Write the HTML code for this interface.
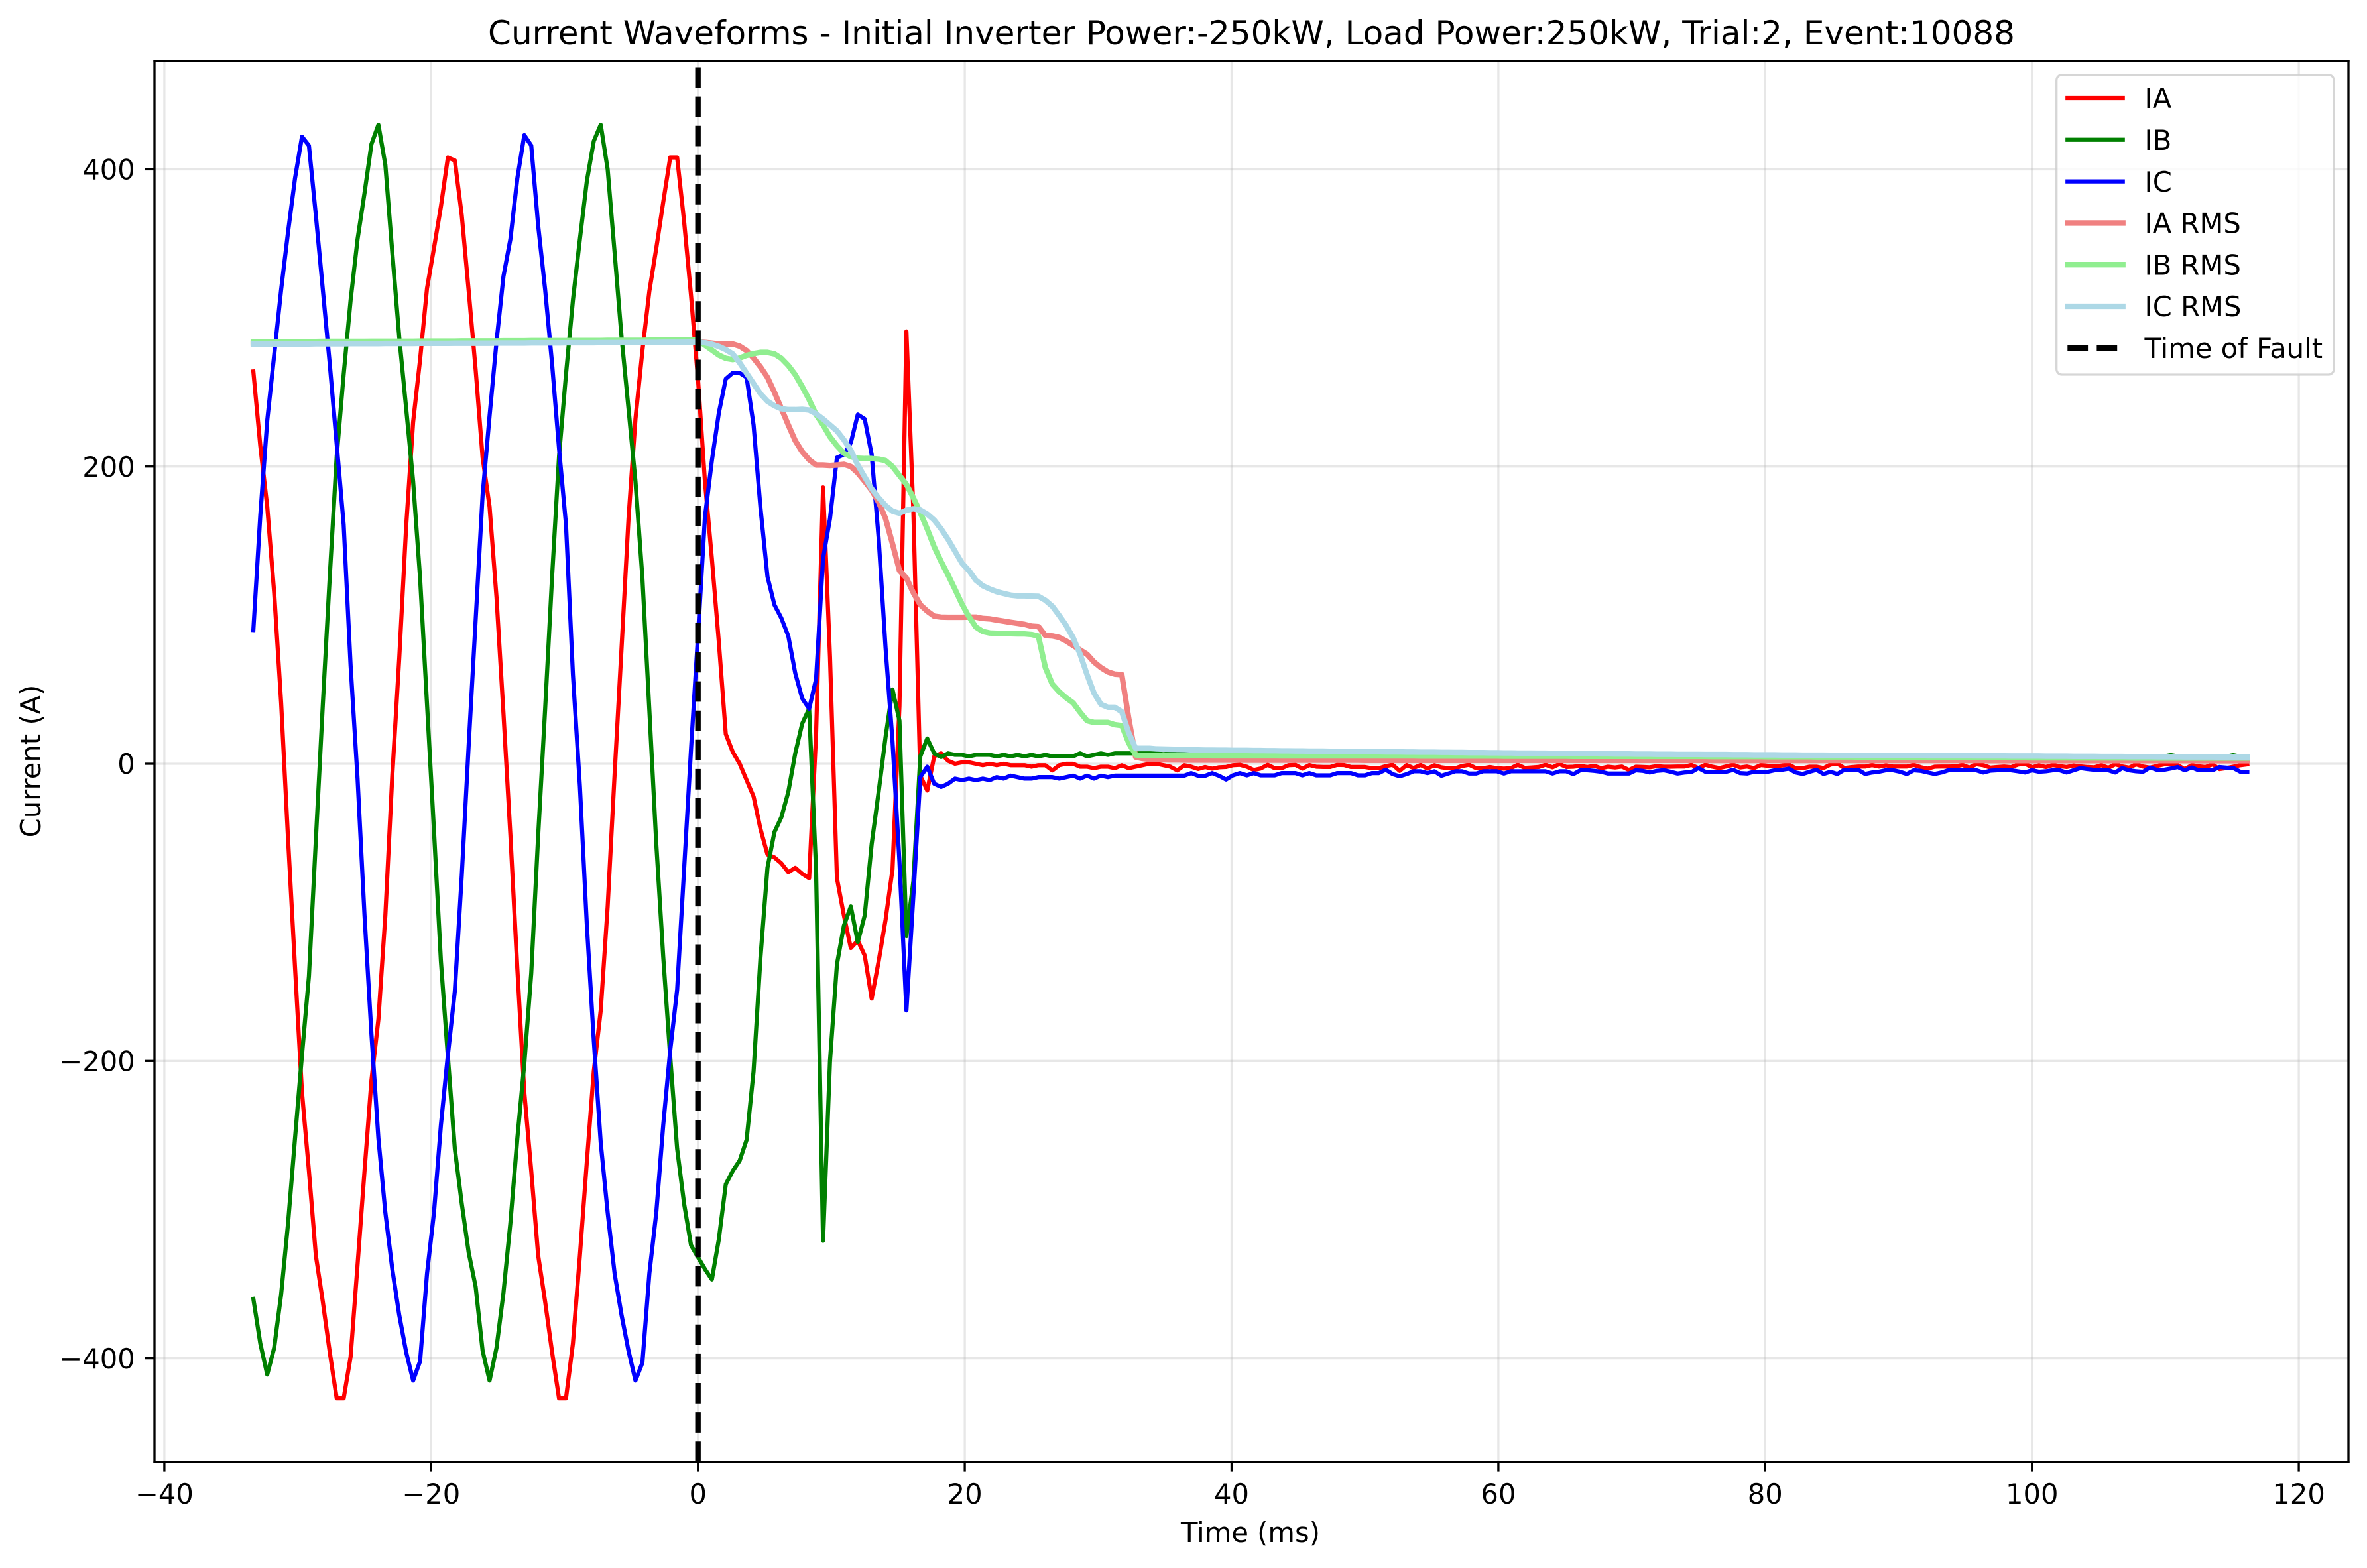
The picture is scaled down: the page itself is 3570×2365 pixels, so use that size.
<!DOCTYPE html>
<html lang="en">
<head>
<meta charset="utf-8">
<title>Current Waveforms</title>
<style>
html,body{margin:0;padding:0;background:#fff;}
svg{display:block;}
text{font-family:"DejaVu Sans","Liberation Sans",sans-serif;fill:#000;}
</style>
</head>
<body>
<svg id="chart" xmlns="http://www.w3.org/2000/svg" width="3570" height="2365" viewBox="0 0 3570 2365">
  <rect x="0" y="0" width="3570" height="2365" fill="#fff"/>
  <defs><clipPath id="plot-clip"><rect x="233" y="92.3" width="3309" height="2112.7"/></clipPath></defs>
  <g id="grid"></g>
  <g id="series" clip-path="url(#plot-clip)"></g>
  <g id="axes"></g>
  <text x="1887.5" y="67" font-size="50" text-anchor="middle">Current Waveforms - Initial Inverter Power:-250kW, Load Power:250kW, Trial:2, Event:10088</text>
  <text x="1886" y="2326" font-size="41.67" text-anchor="middle">Time (ms)</text>
  <text x="0" y="0" font-size="41.67" text-anchor="middle" transform="translate(61,1148) rotate(-90)">Current (A)</text>
  <g id="legend"></g>
</svg>
<script>
const sampleStartMs = -33.33;
const samplePeriodMs = 0.5208;
const xTickLabels = [-40, -20, 0, 20, 40, 60, 80, 100, 120];
const yTickLabels = [-400, -200, 0, 200, 400];
const faultTimeMs = 0;

const ia = [
264,214,173,115,41,-51,-137,-221,-274,-331,
-362,-396,-427,-427,-399,-337,-274,-213,-172,-102,
-8,71,160,230,272,320,347,375,408,406,
369,318,265,206,173,112,34,-48,-138,-221,
-274,-331,-362,-396,-427,-427,-390,-331,-268,-207,
-166,-96,-7,78,165,232,278,318,347,378,
408,408,365,315,259,190,138,82,20,8,
0,-11,-22,-44,-61,-63,-67,-73,-70,-74,
-77,20,186,72,-77,-102,-124,-119,-129,-158,
-133,-105,-71,39,291,170,-8,-18,5,7,
2,0,1,1,0,-1,0,-1,0,-1,
-1,-1,-2,-1,-1,-4.5,-1,0,0,-2,
-2,-3,-2,-2,-3,-1,-3,-2,-1,0,
0,-1,-2,-4.5,-1,-2,-3.5,-2.2,-3.3,-2.4,
-2.2,-1,-0.7,-2,-4.2,-3.2,-0.7,-3,-3,-1,
-0.8,-3.3,-0.9,-2,-2.2,-2.2,-0.8,-0.9,-2.2,-2.2,
-2.2,-3,-3,-1.6,-0.7,-4.8,-0.9,-2.9,-0.8,-3.2,
-1,-2.4,-3,-3,-1.5,-0.7,-3,-3,-2.2,-3,
-3.3,-3,-0.7,-2.8,-2.5,-2.2,-0.7,-2.4,-0.2,-2.2,
-2,-1.4,-2.2,-1.4,-3,-2,-2.5,-1.9,-4.2,-2,
-2.2,-2.4,-1.6,-2,-2,-1.9,-1.9,-0.8,-2.9,-0.7,
-2,-2.9,-1.8,-0.7,-2.5,-1.9,-2.9,-0.9,-1.4,-1.8,
-1.2,-0.5,-3,-3,-2,-2,-2.9,-0.6,0.1,-2.9,
-2.3,-1.9,-1.9,-0.9,-1.9,-1.1,-1.9,-1.9,-1.9,-0.8,
-2.3,-3.3,-2,-1.9,-1.9,-1.8,-0.8,-2.6,-0.3,-1,
-2.6,-2.2,-1.9,-2.3,-0.6,0.1,-2.4,-1.1,-2.2,-0.9,
-1.6,-2.2,-1.2,-1.8,-2.2,-2.4,-1,-2.7,-0.4,-1.8,
-2.6,-0.4,-1.9,-2.6,-1.5,-0.4,0.1,-1,-3.6,-1,
-1.7,-2.2,-0.4,-3.6,-2.9,-2,-1,-0.4
];
const ib = [
-360,-390,-411,-393,-357,-309,-252,-196,-143,-51,
40,126,207,262,312,353,384,417,430,403,
344,287,239,190,125,40,-45,-133,-197,-259,
-296,-329,-352,-395,-415,-393,-356,-309,-252,-202,
-141,-48,37,126,207,262,312,353,392,419,
430,400,344,287,239,190,125,36,-54,-130,
-197,-259,-296,-324,-332,-340,-347,-320,-283,-274,
-267,-253,-207,-130,-70,-46,-36,-19,7,27,
37,-72,-321,-200,-135,-109,-96,-120,-102,-54,
-19,18,50,29,-116,-79,5,17,7,4.5,
7,6,6,5,6,6,6,5,6,5,
6,5,6,5,6,5,5,5,5,7,
5,6,7,6,7,7,7,7,7,7,
7,6.5,7,6.5,7,6.5,7,6.5,7,6.5,
6.5,6.4,6.8,6.3,6.5,6.2,6.6,6.4,6.2,6.5,
6.3,6.6,6.1,6.2,6.5,6.3,6,6.4,6.2,6.1,
6.3,6,6.2,6.4,5.9,6.1,6.3,5.9,6.2,6,
6.1,5.8,6.2,6,5.9,6.2,5.8,6,6.1,5.8,
6,6.2,5.9,5.8,6.1,6,5.8,6.1,5.9,5.8,
6,5.9,5.7,6,5.8,5.9,6,5.7,5.9,6,
5.8,6,6.6,5.8,5.7,5.9,5.6,5.8,6.6,5.7,
5.8,5.6,5.7,5.9,5.6,5.7,5.8,5.5,5.7,5.6,
5.6,5.8,5.5,5.6,5.7,5.4,5.6,5.7,5.5,5.4,
5.6,5.5,5.3,5.6,5.4,5.5,5.3,5.5,5.6,5.3,
5.4,5.5,5.2,5.4,5.3,5.5,5.2,5.3,5.4,5.2,
5.4,5.3,5.1,5.3,5.2,5.4,5.1,5.2,5.3,5.1,
5.2,5.3,5,5.2,5.1,5.2,5,5.1,5.2,5,
5.1,5.2,5,5.1,5,5,5.8,5,4.9,5.1,
5,4.9,5,5,4.9,5.8,4.8,4.9
];
const ic = [
90,167,231,275,319,358,394,422,416,369,
319,269,215,161,66,-10,-102,-182,-252,-302,
-340,-371,-396,-415,-402,-343,-302,-243,-196,-153,
-75,13,97,181,234,284,328,353,394,423,
416,362,319,269,212,161,60,-15,-108,-186,
-255,-302,-343,-371,-395,-415,-403,-343,-302,-243,
-193,-152,-71,10,86,166,204,236,259,263,
263,260,228,172,126,107,98,86,61,44,
37,57,138,165,206,208,216,235,232,208,
152,78,15,-66,-166,-89,-9,-2,-13.4,-15.6,
-13.4,-10,-11,-10,-11,-10,-11,-9,-10,-8,
-9,-10,-10,-9,-9,-9,-10,-9,-8,-10,
-8,-10,-8,-9,-8,-8,-8,-8,-8,-8,
-8,-8,-8,-8,-8,-6.3,-8.1,-8.1,-6.3,-8.1,
-10.6,-7.8,-6.3,-7.8,-6.3,-7.8,-7.8,-7.8,-6.3,-6.3,
-6.3,-7.8,-6.3,-7.8,-7.8,-7.8,-6.3,-6.3,-6.3,-7.8,
-7.8,-6.3,-6.3,-4,-7,-8.4,-7,-5.1,-5.1,-6.3,
-5.1,-8.1,-6.6,-5.1,-5.1,-6.6,-6.6,-5.1,-5.1,-5.1,
-6.6,-5.1,-5.1,-5.1,-5.1,-5.1,-5.1,-6.6,-5.1,-5.1,
-7,-4.4,-4.4,-4.8,-5.4,-6.6,-6.6,-6.6,-6.6,-4.4,
-4.8,-5.9,-4.8,-4.4,-5.4,-6.6,-5.9,-5.6,-2.9,-5.4,
-5.4,-5.4,-5.4,-4.1,-6.3,-6.6,-5.4,-5.4,-5.4,-4.4,
-4.1,-3.3,-5.9,-6.9,-5.4,-4.1,-6.9,-5.4,-6.9,-4.1,
-4.1,-4.1,-6.9,-5.9,-5.4,-4.4,-4.4,-5.4,-6.9,-4.4,
-4.8,-5.9,-6.9,-5.9,-4.4,-4.4,-4.4,-4.4,-4.4,-5.9,
-4.7,-4.4,-4.4,-4.4,-5.1,-5.9,-4.4,-5.4,-5.1,-4.4,
-4.4,-5.9,-4.4,-2.9,-3.6,-4.1,-4.2,-4.4,-5.9,-2.9,
-4.4,-5.1,-5.4,-2.5,-4.1,-4.1,-3.2,-2.2,-4.4,-2.5,
-4.4,-4.4,-4.4,-2.2,-2.6,-2.9,-5.4,-5.4
];
const iaRms = [
283,283,283,283,283,283,283,283,283,283,
283.1,283.1,283.1,283.1,283.1,283.1,283.1,283.1,283.1,283.1,
283.2,283.2,283.2,283.2,283.2,283.2,283.2,283.2,283.2,283.2,
283.3,283.3,283.3,283.3,283.3,283.3,283.3,283.3,283.3,283.3,
283.4,283.4,283.4,283.4,283.4,283.4,283.4,283.4,283.4,283.4,
283.5,283.5,283.5,283.5,283.5,283.5,283.5,283.5,283.5,283.5,
283.6,283.6,283.7,283.8,284,283.5,283,282.5,282.5,282.5,
281,278,273,267,260,250,239,228,217.4,210,
204.6,201,201,200.7,201,201.5,200,195.7,190,184,
176,165,148,130,125,115,107,102.7,99.3,98.7,
98.6,98.6,98.6,98.7,98.7,97.8,97.5,96.7,96,95.2,
94.5,93.8,92.6,92.3,86.3,86,85,82.6,79.6,76.6,
73.7,68.5,64.7,61.8,60.3,60,30.5,4.5,3.5,3,
2.8,2.7,2.6,2.6,2.5,2.5,2.5,2.5,2.5,2.5,
2.5,2.5,2.5,2.4,2.4,2.4,2.4,2.4,2.4,2.4,
2.4,2.4,2.4,2.4,2.4,2.4,2.4,2.4,2.4,2.4,
2.3,2.3,2.3,2.3,2.3,2.3,2.3,2.3,2.3,2.3,
2.3,2.3,2.3,2.3,2.3,2.3,2.3,2.3,2.3,2.3,
2.3,2.3,2.3,2.3,2.3,2.3,2.3,2.3,2.3,2.3,
2.3,2.3,2.3,2.3,2.3,2.3,2.3,2.3,2.3,2.3,
2.3,2.3,2.3,2.3,2.3,2.3,2.3,2.3,2.3,2.3,
2.2,2.2,2.2,2.2,2.2,2.2,2.2,2.2,2.2,2.2,
2.2,2.2,2.2,2.2,2.2,2.2,2.2,2.2,2.2,2.2,
2.2,2.2,2.2,2.2,2.2,2.2,2.2,2.2,2.2,2.2,
2.2,2.2,2.2,2.2,2.2,2.2,2.2,2.2,2.2,2.2,
2.1,2.1,2.1,2.1,2.1,2.1,2.1,2.1,2.1,2.1,
2.1,2.1,2.1,2.1,2.1,2.1,2.1,2.1,2.1,2.1,
2.1,2.1,2.1,2.1,2.1,2.1,2.1,2.1,2.1,2.1,
2,2,2,2,2,2,2,2
];
const ibRms = [
284,284,284,284,284.1,284.1,284.1,284.1,284.1,284.1,
284.2,284.2,284.2,284.2,284.2,284.2,284.2,284.3,284.3,284.3,
284.3,284.3,284.3,284.3,284.4,284.4,284.4,284.4,284.4,284.4,
284.5,284.5,284.5,284.5,284.5,284.5,284.6,284.6,284.6,284.6,
284.7,284.7,284.7,284.7,284.7,284.7,284.8,284.8,284.8,284.8,
284.8,284.9,284.9,284.9,284.9,284.9,284.9,285,285,285,
285,285,285,285,285,281.7,278.4,275,272.8,272,
273,274.8,276,276.8,276.8,275.8,272.8,268,261.8,253.8,
245,235,228,220,214,209,206.6,205.6,205.4,205.4,
205,204,200,194,188,179,169,158,146,136,
127,117.4,107.4,99,92,89,88,87.8,87.5,87.5,
87.4,87.4,87,85.9,64.7,53.6,48.4,44.4,41,34.7,
29,27.8,27.8,27.8,26.3,25.7,14,6,5.6,5.5,
5.5,5.5,5.5,5.5,5.5,5.5,5.5,5.5,5.4,5.4,
5.4,5.4,5.4,5.4,5.4,5.4,5.4,5.4,5.3,5.3,
5.3,5.3,5.3,5.3,5.3,5.3,5.3,5.3,5.3,5.3,
5.3,5.3,5.3,5.3,5.3,5.3,5.3,5.3,5.2,5.2,
5.2,5.2,5.2,5.2,5.2,5.2,5.2,5.2,5.2,5.2,
5.1,5.1,5.1,5.1,5.1,5.1,5.1,5.1,5.1,5.1,
5,5,5,5,5,5,5,5,5,5,
4.9,4.9,4.9,4.9,4.9,4.9,4.9,4.9,4.9,4.9,
4.8,4.8,4.8,4.8,4.8,4.8,4.8,4.8,4.7,4.7,
4.7,4.7,4.7,4.7,4.7,4.6,4.6,4.6,4.6,4.6,
4.6,4.5,4.5,4.5,4.5,4.5,4.4,4.4,4.4,4.4,
4.4,4.3,4.3,4.3,4.3,4.3,4.2,4.2,4.2,4.2,
4.2,4.1,4.1,4.1,4.1,4.1,4,4,4,4,
4,4,3.9,3.9,3.9,3.9,3.9,3.9,3.9,3.9,
3.9,3.8,3.8,3.8,3.8,3.8,3.8,3.8,3.8,3.8,
3.8,3.8,3.8,3.8,3.8,3.8,3.8,3.8
];
const icRms = [
282.4,282.4,282.4,282.4,282.5,282.5,282.5,282.5,282.5,282.6,
282.6,282.6,282.6,282.6,282.7,282.7,282.7,282.7,282.7,282.8,
282.8,282.8,282.8,282.8,282.9,282.9,282.9,282.9,282.9,283,
283,283,283,283,283,283.1,283.1,283.1,283.1,283.1,
283.2,283.2,283.2,283.2,283.2,283.3,283.3,283.3,283.3,283.3,
283.4,283.4,283.4,283.4,283.4,283.5,283.5,283.5,283.5,283.6,
283.6,283.6,283.6,283.7,283.7,283.3,282.3,280.8,278.7,275.8,
269.8,262.8,255.8,248.9,243.9,240.9,238.9,238.3,238.3,238.5,
238,235.5,232,228,224,218,211,201,193,185,
179,173.8,170,168.6,170.6,171.6,170.8,168,164,158,
151,143,135,130,123.5,119.8,117.6,115.8,114.6,113.5,
113,113,112.8,112.7,110,106,99.7,93,84.8,73.7,
60,47.6,40,38,38,35,20.8,10.4,10.4,10.4,
10,9.9,9.8,9.7,9.6,9.4,9.3,9.2,9.2,9.1,
9.1,9,9,9,8.9,8.9,8.8,8.8,8.7,8.7,
8.6,8.6,8.5,8.5,8.5,8.4,8.4,8.3,8.3,8.2,
8.2,8.1,8.1,8,8,8,7.9,7.9,7.8,7.8,
7.8,7.7,7.7,7.6,7.6,7.5,7.5,7.5,7.4,7.4,
7.3,7.3,7.2,7.2,7.2,7.1,7.1,7,7,7,
6.9,6.9,6.8,6.8,6.7,6.7,6.6,6.6,6.6,6.5,
6.5,6.5,6.4,6.4,6.4,6.3,6.3,6.3,6.3,6.2,
6.2,6.2,6.2,6.1,6.1,6.1,6,6,6,6,
5.9,5.9,5.9,5.8,5.8,5.8,5.8,5.7,5.7,5.7,
5.7,5.6,5.6,5.6,5.6,5.5,5.5,5.5,5.5,5.5,
5.5,5.4,5.4,5.4,5.4,5.4,5.4,5.4,5.3,5.3,
5.3,5.3,5.3,5.2,5.2,5.2,5.2,5.2,5.1,5.1,
5.1,5.1,5,5,5,5,4.9,4.9,4.9,4.9,
4.8,4.8,4.8,4.8,4.7,4.7,4.7,4.7,4.6,4.6,
4.6,4.6,4.6,4.5,4.5,4.5,4.5,4.5
];

const SVGNS = 'http://www.w3.org/2000/svg';
const plotLeft = 233, plotRight = 3542, plotTop = 92.3, plotBottom = 2205;
const MM = 20.12, X0 = 1052.7, VV = 2.2415, Y0 = 1152;
function xScale(t){ return X0 + MM * t; }
function yScale(v){ return Y0 - VV * v; }
function tickText(v){ return String(v).replace('-', '\u2212'); }
function make(tag, parent, attrs){
  const el = document.createElementNS(SVGNS, tag);
  for (const k in attrs) el.setAttribute(k, attrs[k]);
  parent.appendChild(el);
  return el;
}

const gridG = document.getElementById('grid');
const axesG = document.getElementById('axes');
const seriesG = document.getElementById('series');
const legendG = document.getElementById('legend');

xTickLabels.forEach(function(t){
  const x = xScale(t);
  const g = make('line', gridG, {x1:x, x2:x, y1:plotTop, y2:plotBottom, stroke:'#b0b0b0', 'stroke-opacity':0.3, 'stroke-width':3.33});
  
  
  const tk = make('line', axesG, {x1:x, x2:x, y1:plotBottom, y2:plotBottom+14.6, stroke:'#000', 'stroke-width':3.33});
  
  
  const lb = make('text', axesG, {x:x, y:2268, 'font-size':41.67, 'text-anchor':'middle'});
  
  
  lb.textContent = tickText(t);
});
yTickLabels.forEach(function(v){
  const y = yScale(v);
  const g = make('line', gridG, {x1:plotLeft, x2:plotRight, y1:y, y2:y, stroke:'#b0b0b0', 'stroke-opacity':0.3, 'stroke-width':3.33});
  
  
  const tk = make('line', axesG, {x1:plotLeft-14.6, x2:plotLeft, y1:y, y2:y, stroke:'#000', 'stroke-width':3.33});
  
  
  const lb = make('text', axesG, {x:plotLeft-29.2, y:y+15.2, 'font-size':41.67, 'text-anchor':'end'});
  
  
  lb.textContent = tickText(v);
});

function drawSeries(values, color, width, name){
  const pts = values.map(function(v, i){
    return xScale(sampleStartMs + i * samplePeriodMs).toFixed(2) + ',' + yScale(v).toFixed(2);
  }).join(' ');
  const line = make('polyline', seriesG, {points:pts, fill:'none', stroke:color, 'stroke-width':width, 'stroke-linejoin':'round', 'stroke-linecap':'square'});
  
  
}
drawSeries(ia, '#ff0000', 6.25, 'ia-line');
drawSeries(ib, '#008000', 6.25, 'ib-line');
drawSeries(ic, '#0000ff', 6.25, 'ic-line');
drawSeries(iaRms, '#f08080', 8.33, 'ia-rms-line');
drawSeries(ibRms, '#90ee90', 8.33, 'ib-rms-line');
drawSeries(icRms, '#add8e6', 8.33, 'ic-rms-line');

const faultLine = make('line', seriesG, {x1:xScale(faultTimeMs), x2:xScale(faultTimeMs), y1:plotBottom, y2:plotTop, stroke:'#000', 'stroke-width':8.33, 'stroke-dasharray':'30.8 13.3'});



const spines = [
  [plotLeft, plotTop, plotLeft, plotBottom, 'left-spine'],
  [plotRight, plotTop, plotRight, plotBottom, 'right-spine'],
  [plotLeft, plotTop, plotRight, plotTop, 'top-spine'],
  [plotLeft, plotBottom, plotRight, plotBottom, 'bottom-spine']
];
spines.forEach(function(s){
  const sp = make('line', axesG, {x1:s[0], y1:s[1], x2:s[2], y2:s[3], stroke:'#000', 'stroke-width':3.33, 'stroke-linecap':'square'});
  
  
});

const box = make('rect', legendG, {x:3101.7, y:112.7, width:418.3, height:452.3, rx:8.3, ry:8.3, fill:'#fff', 'fill-opacity':0.8, stroke:'#cccccc', 'stroke-opacity':0.8, 'stroke-width':3.33});



const legendLabels = ['IA', 'IB', 'IC', 'IA RMS', 'IB RMS', 'IC RMS', 'Time of Fault'];
const legendColors = ['#ff0000', '#008000', '#0000ff', '#f08080', '#90ee90', '#add8e6', '#000000'];
const legendWidths = [6.25, 6.25, 6.25, 8.33, 8.33, 8.33, 8.33];
legendLabels.forEach(function(label, i){
  const y = 148 + i * 62.8;
  const dashed = i === 6;
  const attrs = {x1:3118.3, x2:3201.7, y1:y, y2:y, stroke:legendColors[i], 'stroke-width':legendWidths[i]};
  if (dashed) { attrs['stroke-dasharray'] = '30.8 13.3'; } else { attrs['stroke-linecap'] = 'square'; }
  const h = make('line', legendG, attrs);
  
  
  const t = make('text', legendG, {x:3234.5, y:y+15.2, 'font-size':41.67});
  
  
  t.textContent = label;
});
</script>
</body>
</html>
